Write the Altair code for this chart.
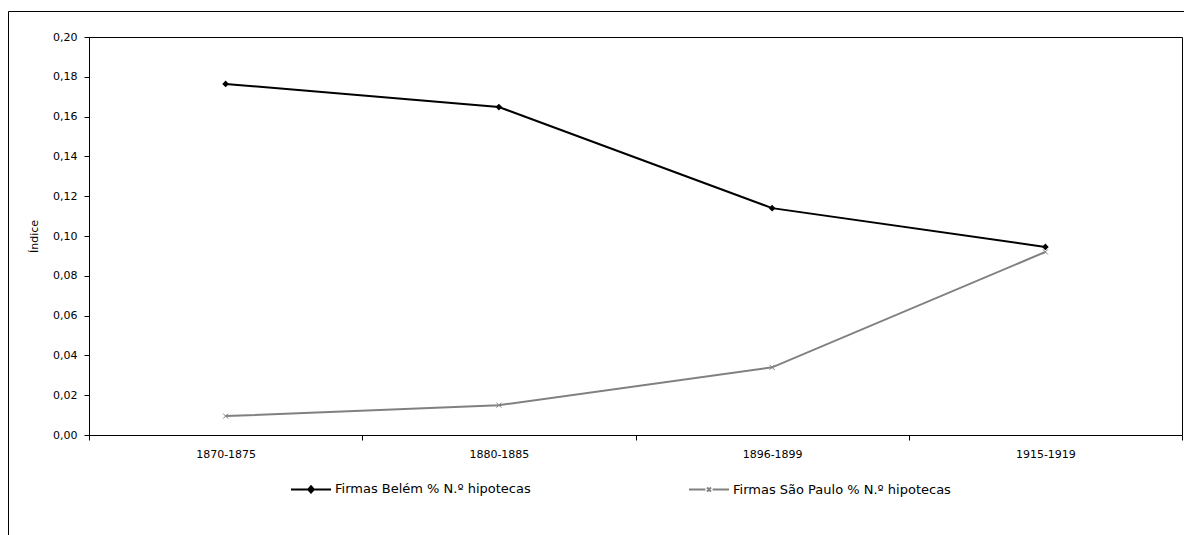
import altair as alt
import pandas as pd

periods = ["1870-1875", "1880-1885", "1896-1899", "1915-1919"]
belem = [0.1764, 0.1648, 0.1140, 0.0945]
sao_paulo = [0.0095, 0.0150, 0.0340, 0.0920]
series_names = ["Firmas Belém % N.º hipotecas", "Firmas São Paulo % N.º hipotecas"]
series_colors = ["#000000", "#808080"]
y_ticks = [0.0, 0.02, 0.04, 0.06, 0.08, 0.10, 0.12, 0.14, 0.16, 0.18, 0.20]

rows = []
for p, b, s in zip(periods, belem, sao_paulo):
    rows.append({"periodo": p, "serie": series_names[0], "valor": b})
    rows.append({"periodo": p, "serie": series_names[1], "valor": s})
df = pd.DataFrame(rows)

FONT = "DejaVu Sans"
W, H = 1093, 398

x_enc = alt.X(
    "periodo:N",
    scale=alt.Scale(type="band", domain=periods, paddingInner=0, paddingOuter=0),
    axis=alt.Axis(title=None, tickBand="extent", tickSize=5, labelPadding=8,
                  labelAngle=0, labelFont=FONT, labelFontSize=11, labelColor="black",
                  domainColor="black", tickColor="black", grid=False),
)
y_enc = alt.Y(
    "valor:Q",
    scale=alt.Scale(domain=[0, 0.2], nice=False, zero=True),
    axis=alt.Axis(title="Índice", values=y_ticks, grid=False, tickSize=5, labelPadding=7,
                  labelExpr="replace(format(datum.value, '.2f'), '.', ',')",
                  labelFont=FONT, labelFontSize=11, labelColor="black",
                  domainColor="black", tickColor="black",
                  titleX=-50, titleY=H / 2, titleAngle=-90, titleFont=FONT,
                  titleFontSize=11, titleFontWeight="normal", titleColor="black"),
)

base = alt.Chart(df)

line_b = base.transform_filter(alt.datum.serie == series_names[0]).mark_line(
    color=series_colors[0], strokeWidth=2).encode(x=x_enc, y=y_enc)
line_s = base.transform_filter(alt.datum.serie == series_names[1]).mark_line(
    color=series_colors[1], strokeWidth=2).encode(x=x_enc, y=y_enc)
pts_b = base.transform_filter(alt.datum.serie == series_names[0]).mark_point(
    shape="diamond", filled=True, color=series_colors[0], size=45, opacity=1).encode(x=x_enc, y=y_enc)
pts_s = base.transform_filter(alt.datum.serie == series_names[1]).mark_point(
    shape="M-1,-1L1,1M-1,1L1,-1", filled=False, color=series_colors[1], size=25,
    strokeWidth=1, opacity=1).encode(x=x_enc, y=y_enc)

sym_b = "M-1,0H1M0,-0.16L0.14,0L0,0.16L-0.14,0Z"
sym_s = "M-1,0H-0.18M0.18,0H1M-0.1,-0.1L0.1,0.1M-0.1,0.1L0.1,-0.1"

leg = alt.Legend(title=None, orient="none", legendX=201, legendY=431, direction="horizontal",
                 columnPadding=154, symbolSize=1600, symbolStrokeWidth=2, labelOffset=3,
                 labelLimit=0, labelFont=FONT, labelFontSize=13, labelColor="black",
                 symbolOpacity=1)

legend_layer = base.transform_filter("datum.valor < 0").mark_point(filled=True, opacity=1).encode(
    x=x_enc, y=y_enc,
    fill=alt.Fill("serie:N", scale=alt.Scale(domain=series_names, range=series_colors), legend=leg),
    stroke=alt.Stroke("serie:N", scale=alt.Scale(domain=series_names, range=series_colors), legend=leg),
    shape=alt.Shape("serie:N", scale=alt.Scale(domain=series_names, range=[sym_b, sym_s]), legend=leg),
)

frame = alt.Chart(pd.DataFrame({"k": [0]})).mark_rect(
    filled=False, stroke="black", strokeWidth=1).encode(
    x=alt.value(-80.5), x2=alt.value(W + 2.5), y=alt.value(-25.5), y2=alt.value(520))

chart = alt.layer(frame, line_b, line_s, pts_b, pts_s, legend_layer).properties(
    width=W, height=H,
    autosize=alt.AutoSizeParams(type="none"),
    padding={"left": 81, "top": 29, "right": 2, "bottom": 100},
    background="white",
).configure_view(stroke="black", strokeWidth=1)

chart.save("out.html", embed_options={"renderer": "svg", "actions": False})
